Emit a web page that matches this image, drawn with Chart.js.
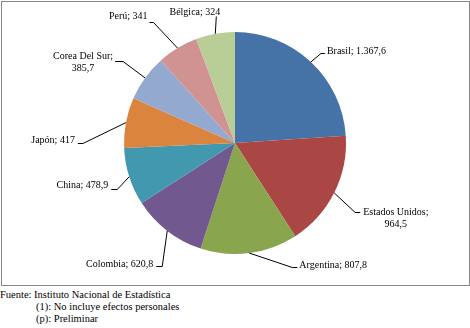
<!DOCTYPE html>
<html>
<head>
<meta charset="utf-8">
<script src="https://cdn.jsdelivr.net/npm/chart.js"></script>
<style>
    body { margin: 0; background: #fff; width: 470px; height: 328px; position: relative; overflow: hidden; }
    #box { position: absolute; left: 1px; top: 1px; width: 467px; height: 283px; border: 1px solid #878787; }
    #box canvas { display: block; }
    .note { position: absolute; font: 10.5px "Liberation Serif", "Times New Roman", serif; color: #000; white-space: nowrap; }
</style>
</head>
<body>
<div id="box"><canvas id="dvCanvas" width="467" height="283"></canvas></div>
<div class="note" style="left:0px; top:289px;">Fuente: Instituto Nacional de Estadística</div>
<div class="note" style="left:36px; top:301px;">(1): No incluye efectos personales</div>
<div class="note" style="left:36px; top:313px;">(p): Preliminar</div>
<script>
    // countries, clockwise from 12 o'clock
    var countries = ['Brasil', 'Estados Unidos', 'Argentina', 'Colombia', 'China', 'Japón', 'Corea Del Sur', 'Perú', 'Bélgica'];
    var values = [1367.6, 964.5, 807.8, 620.8, 478.9, 417, 385.7, 341, 324];
    var colors = ['#4572A7', '#AA4643', '#89A54E', '#71588F', '#4198AF', '#DB843D', '#93A9CF', '#D19392', '#B9CD96'];

    //label placement: elbow offset from slice edge, hook length, text offset
    var labelLayout = [
        { dx: 10, dy: -9, hook: 4, tx: 2, ty: -2, align: 'left', wrap: false },
        { dx: 21, dy: 19, hook: 5, tx: 3, ty: 0, align: 'left', wrap: true },
        { dx: 43, dy: 14, hook: 5, tx: 2, ty: -2, align: 'left', wrap: false },
        { dx: -5, dy: 35, hook: -6, tx: -3, ty: -2, align: 'right', wrap: false },
        { dx: -12, dy: 12, hook: -6, tx: -3, ty: -4, align: 'right', wrap: false },
        { dx: -43, dy: 20, hook: -5, tx: -3, ty: -3, align: 'right', wrap: false },
        { dx: -22, dy: -17, hook: -8, tx: -2, ty: -5, align: 'right', wrap: true },
        { dx: -24, dy: -26, hook: -4, tx: -2, ty: -6, align: 'right', wrap: false },
        { dx: 1, dy: -18, hook: 0, tx: 4, ty: -4, align: 'right', wrap: false }
    ];

    //1367.6 -> "1.367,6"
    function fmt(v) {
        var parts = String(v).split('.');
        var intPart = parts[0].replace(/\B(?=(\d{3})+(?!\d))/g, '.');
        return parts.length > 1 ? intPart + ',' + parts[1] : intPart;
    }

    var pieLabels = {
        id: 'pieLabels',
        afterDatasetsDraw: function (chart) {
            var ctx = chart.ctx;
            var meta = chart.getDatasetMeta(0);
            ctx.save();
            ctx.font = '10px "Liberation Serif", "Times New Roman", serif';
            ctx.strokeStyle = '#000';
            ctx.fillStyle = '#000';
            ctx.lineWidth = 1;
            meta.data.forEach(function (arc, i) {
                var p = arc.getProps(['x', 'y', 'startAngle', 'endAngle', 'outerRadius'], true);
                var mid = (p.startAngle + p.endAngle) / 2;
                var ex = p.x + Math.cos(mid) * p.outerRadius;
                var ey = p.y + Math.sin(mid) * p.outerRadius;
                var lay = labelLayout[i];
                var bx = ex + lay.dx;
                var by = Math.round(ey + lay.dy) + 0.5;
                var hx = bx + lay.hook;

                ctx.beginPath();
                ctx.moveTo(ex, ey);
                ctx.lineTo(bx, by);
                ctx.lineTo(hx, by);
                ctx.stroke();

                var lines = lay.wrap ? [countries[i] + ';', fmt(values[i])] : [countries[i] + '; ' + fmt(values[i])];
                var w = 0;
                lines.forEach(function (t) { w = Math.max(w, ctx.measureText(t).width); });
                var left = lay.align === 'left' ? hx + lay.tx : hx + lay.tx - w;
                ctx.textAlign = 'center';
                ctx.textBaseline = 'middle';
                lines.forEach(function (t, j) {
                    ctx.fillText(t, left + w / 2, by + lay.ty + j * 12);
                });
            });
            ctx.restore();
        }
    };

    var ctx = document.getElementById('dvCanvas').getContext('2d');
    var myChart = new Chart(ctx, {
        type: 'pie',
        data: {
            labels: countries,
            datasets: [{
                data: values,
                backgroundColor: colors,
                borderWidth: 0
            }]
        },
        options: {
            responsive: false,
            animation: false,
            layout: { padding: { top: 30, bottom: 31, left: 0, right: 1 } },
            plugins: {
                legend: { display: false },
                tooltip: { enabled: false }
            }
        },
        plugins: [pieLabels]
    });
</script>
</body>
</html>
